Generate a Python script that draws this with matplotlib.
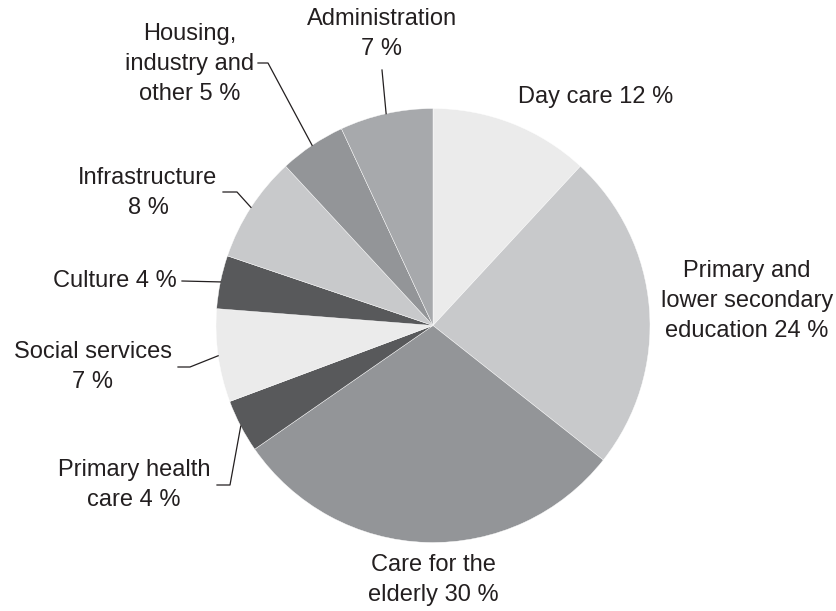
import numpy as np
import matplotlib.pyplot as plt

plt.rcParams['font.family'] = ['Liberation Sans', 'DejaVu Sans']

# spending shares, clockwise from the top
sectors = ["Day care", "Primary and\nlower secondary\neducation", "Care for the\nelderly",
           "Primary health\ncare", "Social services", "Culture", "Infrastructure",
           "Housing,\nindustry and\nother", "Administration"]
shares = [12, 24, 30, 4, 7, 4, 8, 5, 7]
colors = ["#ebebeb", "#c8c9cb", "#939598", "#58595b", "#ebebeb",
          "#58595b", "#c8c9cb", "#939598", "#a7a9ac"]

W, H = 837, 611
CX, CY, R = 433, 325.5, 217.0
ink = "#231f20"


def px(x, y):
    # pixel position -> data units (pie radius = 1)
    return (x - CX) / R, (CY - y) / R


fig = plt.figure(figsize=(W / 100, H / 100), dpi=100)
ax = fig.add_axes([0, 0, 1, 1])

wedges, _ = ax.pie(shares, colors=colors, startangle=90, counterclock=False,
                   radius=1, wedgeprops=dict(edgecolor="white", linewidth=0.3))

ax.set_xlim(-CX / R, (W - CX) / R)
ax.set_ylim(-(H - CY) / R, CY / R)
ax.set_aspect("equal")
ax.axis("off")

labels = [f"{s} {v} %" for s, v in zip(sectors, shares)]
# some labels put the value on its own line
for i in (4, 6, 8):
    labels[i] = f"{sectors[i]}\n{shares[i]} %"

# text centre (px) and leader elbow points (px) for each label
layout = [
    ((596, 97), None),
    ((747, 301), None),
    ((433, 580), None),
    ((134, 485), [(217, 485), (230, 485)]),
    ((93, 367), [(178, 367), (190, 367)]),
    ((115, 281), [(182, 281)]),
    ((148, 193), [(223, 192), (237, 192)]),
    ((190, 64), [(258, 63), (268, 63)]),
    ((382, 34), [(382, 70)]),
]

for w, lab, (pos, elbow) in zip(wedges, labels, layout):
    tx, ty = px(*pos)
    ax.text(tx, ty, lab, ha="center", va="center", multialignment="center",
            fontsize=17, color=ink, linespacing=1.46)
    if elbow:
        mid = np.deg2rad((w.theta1 + w.theta2) / 2)
        pts = [px(*p) for p in elbow] + [(np.cos(mid), np.sin(mid))]
        xs, ys = zip(*pts)
        ax.plot(xs, ys, color=ink, lw=0.9)

fig.savefig("out.png", dpi=100)
